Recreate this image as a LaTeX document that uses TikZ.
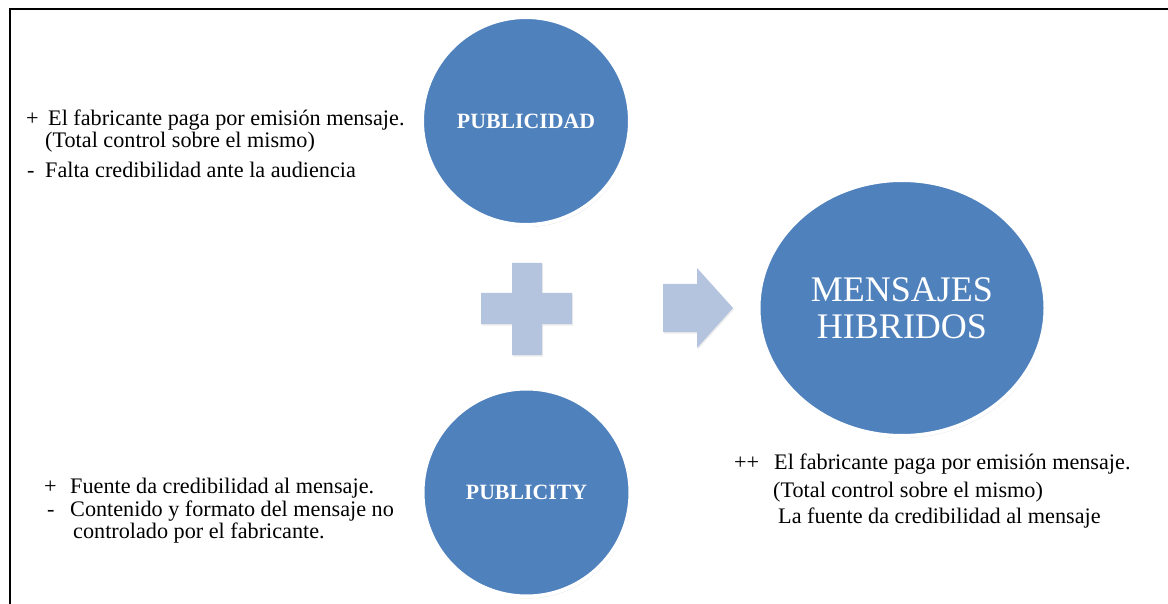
\documentclass[tikz,border=0pt]{standalone}
\usepackage{fontspec}
\setmainfont{Liberation Serif}
\usetikzlibrary{shapes.geometric,shadows}

\definecolor{circblue}{RGB}{79,129,189}
\definecolor{signblue}{RGB}{180,195,222}

\tikzset{
	circ/.style={circle, fill=circblue, draw=white, line width=4pt, minimum size=208pt, inner sep=0pt, text=white,
		drop shadow={shadow xshift=1pt, shadow yshift=-2pt, opacity=.3, fill=gray}},
	circlabel/.style={font=\fontsize{21.8}{22}\selectfont\bfseries},
	txt/.style={anchor=base west, inner sep=0pt, font=\fontsize{22.2}{23}\selectfont, text=black},
	sign/.style={fill=signblue, drop shadow={shadow xshift=1pt, shadow yshift=-1.5pt, opacity=.15, fill=gray}},
}

\begin{document}
\begin{tikzpicture}[x=1pt, y=-1pt]
		\useasboundingbox (0,0) rectangle (1168,604);
		\draw [line width=2pt] (1168,9.5) -- (9.5,9.5) -- (9.5,604);

		\node (publicidad)[circ, circlabel] at (526,121) {PUBLICIDAD};
		\node (publicity)[circ, circlabel] at (526.5,492.5) {PUBLICITY};
		\node (hibridos)[circ, ellipse, minimum width=287pt, minimum height=256pt, align=center,
			font=\fontsize{36}{37}\selectfont] at (902,308) {MENSAJES\\HIBRIDOS};

		% plus and arrow
		\fill [sign] (512,263) -- (542,263) -- (542,293) -- (572,293) -- (572,324) -- (542,324) -- (542,355)
			-- (512,355) -- (512,324) -- (481,324) -- (481,293) -- (512,293) -- cycle;
		\fill [sign] (663,284) -- (697,284) -- (697,268) -- (733,308) -- (697,348) -- (697,332) -- (663,332) -- cycle;

		% publicidad
		\node (pdplus)[txt] at (26,126) {+};
		\node (pdline1)[txt] at (48,126) {El fabricante paga por emisión mensaje.};
		\node (pdline2)[txt] at (45,148) {(Total control sobre el mismo)};
		\node (pdminus)[txt] at (27,178) {-};
		\node (pdline3)[txt] at (45,178) {Falta credibilidad ante la audiencia};

		% publicity
		\node (ptplus)[txt] at (44,493) {+};
		\node (ptline1)[txt] at (70,493) {Fuente da credibilidad al mensaje.};
		\node (ptminus)[txt] at (47,516) {-};
		\node (ptline2)[txt] at (70,516) {Contenido y formato del mensaje no};
		\node (ptline3)[txt] at (73,538) {controlado por el fabricante.};

		% mensajes hibridos
		\node (mhplus)[txt] at (734,469) {++};
		\node (mhline1)[txt] at (774,469) {El fabricante paga por emisión mensaje.};
		\node (mhline2)[txt] at (773,497) {(Total control sobre el mismo)};
		\node (mhline3)[txt] at (778,523) {La fuente da credibilidad al mensaje};
	\end{tikzpicture}
\end{document}
